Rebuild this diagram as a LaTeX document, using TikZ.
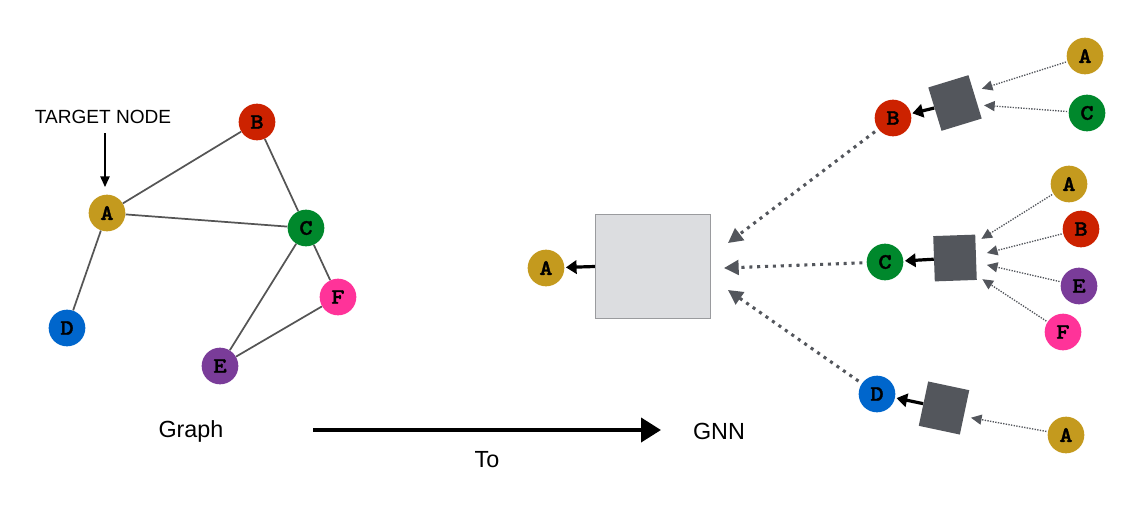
\documentclass[tikz,border=0pt]{standalone}
\usepackage{fontspec}
\setmainfont{Liberation Sans}
\newfontfamily\letterfont{lmmonolt10-bold}[Extension=.otf,FakeBold=1.5,FakeStretch=1.15]
\usetikzlibrary{arrows.meta}
\definecolor{cA}{HTML}{C49A1E}
\definecolor{cB}{HTML}{CC2200}
\definecolor{cC}{HTML}{00882C}
\definecolor{cD}{HTML}{0066CC}
\definecolor{cE}{HTML}{7A3C99}
\definecolor{cF}{HTML}{FF3399}
\definecolor{sqc}{HTML}{53565C}
\definecolor{boxfill}{HTML}{DCDDE0}
\definecolor{boxline}{HTML}{9A9B9E}
\definecolor{edgec}{HTML}{555555}
\begin{document}
\begin{tikzpicture}[x=0.75pt,y=-0.75pt,
  gn/.style={circle,minimum size=27.5pt,inner sep=0pt,fill=#1,
    font=\letterfont\fontsize{16.5}{16.5}\selectfont},
  sq/.style={fill=sqc,minimum width=31.5pt,minimum height=34pt,inner sep=0pt},
  edge/.style={draw=edgec,line width=1.3pt},
  thick dot/.style={draw=sqc,line width=2.3pt,dash pattern=on 2.3pt off 3.6pt,
    -{Triangle[length=11pt,width=11pt]},shorten <=3pt},
  thin dot/.style={draw=sqc,line width=1pt,dash pattern=on 1pt off 1pt,
    -{Triangle[length=8pt,width=7.5pt]},shorten <=1pt,shorten >=3pt},
  out arr/.style={draw=black,line width=2.4pt,-{Triangle[length=8pt,width=10pt]},shorten >=1pt},
  lbl/.style={font=\fontsize{17.5}{17.5}\selectfont}
]
\useasboundingbox (0,0) rectangle (1143,508);

% left graph
\node[gn=cA] (A) at (107,213) {A};
\node[gn=cB] (B) at (257,122) {B};
\node[gn=cC] (C) at (306,228) {C};
\node[gn=cD] (D) at (67,328) {D};
\node[gn=cE] (E) at (220,366) {E};
\node[gn=cF] (F) at (338,297) {F};
\draw[edge] (A) -- (B);
\draw[edge] (A) -- (C);
\draw[edge] (A) -- (D);
\draw[edge] (B) -- (C);
\draw[edge] (C) -- (E);
\draw[edge] (C) -- (F);
\draw[edge] (E) -- (F);

\node[font=\fontsize{14.3}{14.3}\selectfont] (tn) at (103,117) {TARGET NODE};
\coordinate (ta) at (105,133);
\coordinate (tb) at (105,187);
\draw[line width=1.1pt,-{Triangle[length=8pt,width=7pt]}] (ta) -- (tb);

% middle
\node[draw=boxline,line width=1.2pt,fill=boxfill,minimum width=86pt,minimum height=78pt,inner sep=0pt] (box) at (653,266.5) {};
\node[gn=cA] (MA) at (546,268) {A};
\draw[out arr] (box.west) -- (MA);

% right
\node[gn=cB] (RB) at (893,118) {B};
\node[gn=cC] (RC) at (885,262) {C};
\node[gn=cD] (RD) at (877,394) {D};
\node[sq,rotate=17] (S1) at (955,103) {};
\node[sq,rotate=2] (S2) at (955,258) {};
\node[sq,rotate=-12] (S3) at (944,408) {};

\draw[out arr] (S1) -- (RB);
\draw[out arr] (S2) -- (RC);
\draw[out arr] (S3) -- (RD);

\coordinate (e1) at (728,243);
\coordinate (e2) at (724,268);
\coordinate (e3) at (728,290);
\draw[thick dot] (RB) -- (e1);
\draw[thick dot] (RC) -- (e2);
\draw[thick dot] (RD) -- (e3);

\node[gn=cA] (L1A) at (1085,56) {A};
\node[gn=cC] (L1C) at (1087,113) {C};
\node[gn=cA] (L2A) at (1069,184) {A};
\node[gn=cB] (L2B) at (1081,229) {B};
\node[gn=cE] (L2E) at (1079,286) {E};
\node[gn=cF] (L2F) at (1063,332) {F};
\node[gn=cA] (L3A) at (1066,435) {A};

\coordinate (p1a) at (978,90);
\coordinate (p1c) at (980,105);
\coordinate (p2a) at (978,241);
\coordinate (p2b) at (983,254);
\coordinate (p2e) at (983,264);
\coordinate (p2f) at (979,277);
\coordinate (p3a) at (967,417);
\draw[thin dot] (L1A) -- (p1a);
\draw[thin dot] (L1C) -- (p1c);
\draw[thin dot] (L2A) -- (p2a);
\draw[thin dot] (L2B) -- (p2b);
\draw[thin dot] (L2E) -- (p2e);
\draw[thin dot] (L2F) -- (p2f);
\draw[thin dot] (L3A) -- (p3a);

% bottom
\node[lbl] (g) at (191,431) {Graph};
\node[lbl] (gnn) at (719,431) {GNN};
\coordinate (m1) at (313,430);
\coordinate (m2) at (661,430);
\draw[line width=3pt,-{Triangle[length=15pt,width=18pt]}] (m1) -- node[lbl,below=11pt] (to) {To} (m2);
\end{tikzpicture}
\end{document}
